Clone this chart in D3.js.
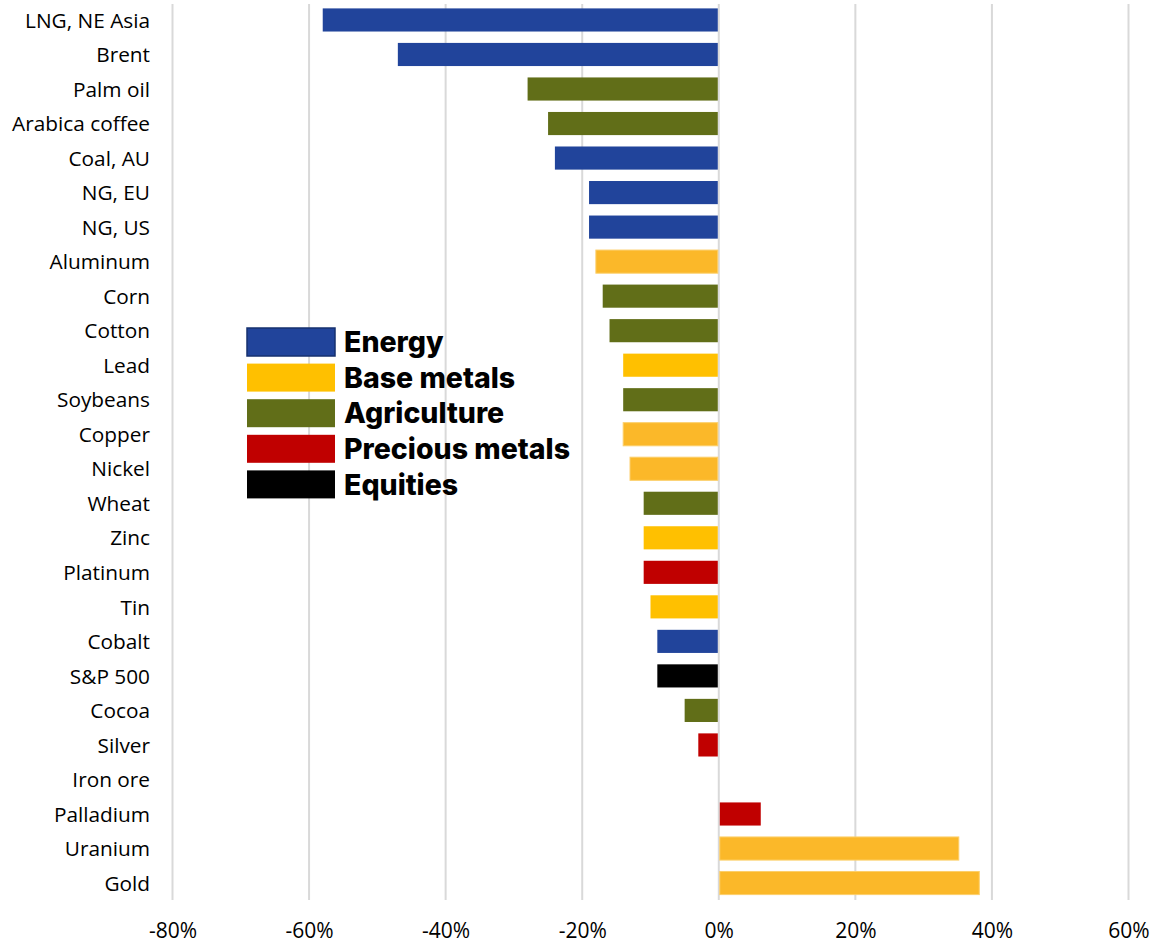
<!DOCTYPE html>
<html>
<head>
<meta charset="utf-8">
<script src="https://cdn.jsdelivr.net/npm/d3@7"></script>
<style>
  html, body { margin: 0; padding: 0; background: #fff; }
  svg { display: block; }
</style>
</head>
<body>
<svg id="chart" width="1164" height="945"></svg>
<script>
// Price change by commodity, sorted from largest fall to largest gain (%)
const categories = [
  "LNG, NE Asia", "Brent", "Palm oil", "Arabica coffee", "Coal, AU", "NG, EU", "NG, US",
  "Aluminum", "Corn", "Cotton", "Lead", "Soybeans", "Copper", "Nickel", "Wheat", "Zinc",
  "Platinum", "Tin", "Cobalt", "S&P 500", "Cocoa", "Silver", "Iron ore", "Palladium",
  "Uranium", "Gold"
];
const values = [
  -58, -47, -28, -25, -24, -19, -19,
  -18, -17, -16, -14, -14, -14, -13, -11, -11,
  -11, -10, -9, -9, -5, -3, 0, 6,
  35, 38
];
const groups = [
  "Energy", "Energy", "Agriculture", "Agriculture", "Energy", "Energy", "Energy",
  "Base metals", "Agriculture", "Agriculture", "Base metals", "Agriculture", "Base metals", "Base metals", "Agriculture", "Base metals",
  "Precious metals", "Base metals", "Energy", "Equities", "Agriculture", "Precious metals", "Base metals", "Precious metals",
  "Base metals", "Base metals"
];
// Bars drawn in the softer amber tone
const amberBars = ["Aluminum", "Copper", "Nickel", "Uranium", "Gold"];

const legendItems = ["Energy", "Base metals", "Agriculture", "Precious metals", "Equities"];
const xTicks = [-80, -60, -40, -20, 0, 20, 40, 60];

const colors = {
  "Energy": "#21449B",
  "Base metals": "#FFC000",
  "Agriculture": "#616E18",
  "Precious metals": "#C00000",
  "Equities": "#000000"
};
const amber = "#FBB829";

const svg = d3.select("#chart");
const labelFont = "'Open Sans', 'Noto Sans', sans-serif";

const x = d3.scaleLinear().domain([-80, 60]).range([172.5, 1128.5]);
const y = d3.scaleBand()
  .domain(categories)
  .range([2.7, 900.3])
  .paddingInner(0.33)
  .paddingOuter(0.165);

// Vertical gridlines
svg.append("g")
  .selectAll("line")
  .data(xTicks)
  .join("line")
  .attr("x1", d => x(d)).attr("x2", d => x(d))
  .attr("y1", 4).attr("y2", 900)
  .attr("stroke", "#D9D9D9")
  .attr("stroke-width", 2);

// Bars
const rows = categories.map((c, i) => ({ name: c, value: values[i], group: groups[i] }));
svg.append("g")
  .selectAll("rect")
  .data(rows.filter(d => d.value !== 0))
  .join("rect")
  .attr("x", d => d.value < 0 ? x(d.value) : x(0) + 1)
  .attr("y", d => y(d.name))
  .attr("width", d => Math.abs(x(d.value) - x(0)) - (d.value < 0 ? 1 : 0))
  .attr("height", y.bandwidth())
  .attr("fill", d => amberBars.includes(d.name) ? amber : colors[d.group])
  .attr("stroke", d => amberBars.includes(d.name) ? "#FCCF6A" : "none")
  .attr("stroke-width", 1);

// Category labels
const yAxis = d3.axisLeft(y).tickSize(0).tickPadding(0);
const gy = svg.append("g")
  .attr("transform", `translate(150,1)`)
  .call(yAxis);
gy.select(".domain").remove();
gy.selectAll("text")
  .attr("font-family", labelFont)
  .attr("font-size", 20.8)
  .attr("fill", "#000");

// Value axis labels
const xAxis = d3.axisBottom(x).tickValues(xTicks).tickSize(0).tickPadding(0)
  .tickFormat(d => d + "%");
const gx = svg.append("g")
  .attr("transform", `translate(0,923)`)
  .call(xAxis);
gx.select(".domain").remove();
gx.selectAll("text")
  .attr("font-family", labelFont)
  .attr("font-size", 21)
  .attr("fill", "#000");

// Legend
const legend = svg.append("g").attr("transform", "translate(247,328)");
const item = legend.selectAll("g")
  .data(legendItems)
  .join("g")
  .attr("transform", (d, i) => `translate(0,${i * 35.6})`);
item.append("rect")
  .attr("width", 88)
  .attr("height", 28)
  .attr("fill", d => colors[d])
  .attr("stroke", d => d === "Energy" ? "#16306F" : "none")
  .attr("stroke-width", 1.5);
item.append("text")
  .attr("x", 97)
  .attr("y", 14)
  .attr("dy", "0.36em")
  .attr("font-family", "Inter, sans-serif")
  .attr("font-weight", 800)
  .attr("font-size", 28.5)
  .attr("fill", "#000")
  .text(d => d);
</script>
</body>
</html>
